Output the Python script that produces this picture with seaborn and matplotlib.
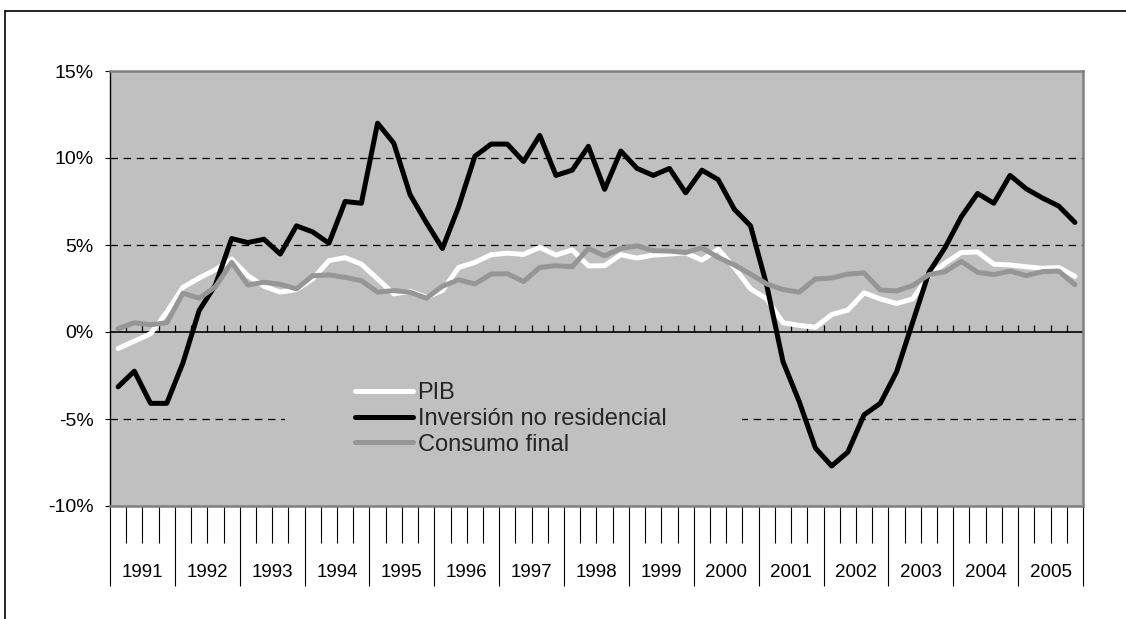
import numpy as np
import pandas as pd
import matplotlib
matplotlib.use('Agg')
import matplotlib.pyplot as plt
import matplotlib.transforms as mtransforms
from matplotlib.lines import Line2D
from matplotlib.patches import Rectangle
import seaborn as sns

# ── Data (tasas de variación interanual, %, trimestral 1991-2005) ──
years = list(range(1991, 2006))

pib = [
    -0.95, -0.53, -0.10, 1.14,    # 1991
    2.57, 3.10, 3.58, 4.19,       # 1992
    3.24, 2.63, 2.29, 2.44,       # 1993
    3.05, 4.10, 4.27, 3.90,       # 1994
    3.05, 2.19, 2.34, 2.00,       # 1995
    2.38, 3.71, 4.00, 4.44,       # 1996
    4.53, 4.46, 4.86, 4.42,       # 1997
    4.72, 3.80, 3.81, 4.44,       # 1998
    4.25, 4.42, 4.48, 4.55,       # 1999
    4.13, 4.76, 3.71, 2.48,       # 2000
    1.90, 0.53, 0.38, 0.27,       # 2001
    1.00, 1.26, 2.25, 1.90,       # 2002
    1.64, 1.90, 3.24, 3.96,       # 2003
    4.57, 4.60, 3.90, 3.85,       # 2004
    3.75, 3.66, 3.71, 3.20,       # 2005
]

inversion = [
    -3.15, -2.25, -4.10, -4.10,   # 1991
    -1.77, 1.24, 2.70, 5.37,      # 1992
    5.14, 5.33, 4.48, 6.10,       # 1993
    5.75, 5.10, 7.50, 7.40,       # 1994
    12.00, 10.85, 7.90, 6.30,     # 1995
    4.80, 7.20, 10.10, 10.80,     # 1996
    10.80, 9.80, 11.30, 9.00,     # 1997
    9.30, 10.67, 8.20, 10.40,     # 1998
    9.40, 9.00, 9.40, 8.00,       # 1999
    9.30, 8.76, 7.05, 6.10,       # 2000
    2.67, -1.70, -4.00, -6.67,    # 2001
    -7.70, -6.90, -4.76, -4.10,   # 2002
    -2.30, 0.57, 3.43, 4.86,      # 2003
    6.63, 7.96, 7.40, 9.00,       # 2004
    8.23, 7.70, 7.24, 6.30,       # 2005
]

consumo = [
    0.19, 0.53, 0.42, 0.53,       # 1991
    2.23, 1.94, 2.60, 4.00,       # 1992
    2.70, 2.86, 2.74, 2.48,       # 1993
    3.24, 3.28, 3.14, 2.95,       # 1994
    2.29, 2.38, 2.29, 1.94,       # 1995
    2.63, 3.00, 2.76, 3.33,       # 1996
    3.35, 2.90, 3.71, 3.81,       # 1997
    3.75, 4.80, 4.38, 4.80,       # 1998
    4.95, 4.67, 4.65, 4.57,       # 1999
    4.84, 4.29, 3.85, 3.33,       # 2000
    2.76, 2.44, 2.29, 3.05,       # 2001
    3.10, 3.33, 3.39, 2.42,       # 2002
    2.36, 2.67, 3.30, 3.47,       # 2003
    4.06, 3.43, 3.30, 3.50,       # 2004
    3.24, 3.47, 3.50, 2.72,       # 2005
]

series_names = ['PIB', 'Inversión no residencial', 'Consumo final']
series_colors = ['#FFFFFF', '#000000', '#969696']

n = len(pib)
quarter = np.arange(n)
df = pd.DataFrame({
    'trimestre': np.tile(quarter, 3),
    'valor': pib + inversion + consumo,
    'serie': np.repeat(series_names, n),
})

# ── Style ──
sns.set_style('white')
plt.rcParams['font.family'] = ['Liberation Sans', 'DejaVu Sans']

W, H = 1126, 619
fig = plt.figure(figsize=(W / 100, H / 100), dpi=100)
ax = fig.add_axes([110 / W, 1 - 506 / H, 973 / W, 435 / H])
ax.set_facecolor('#C0C0C0')

# ── Lines ──
for name, color in zip(series_names, series_colors):
    sns.lineplot(data=df[df['serie'] == name], x='trimestre', y='valor',
                 color=color, linewidth=3.6, ax=ax, zorder=3,
                 solid_capstyle='round', solid_joinstyle='round')

# gridlines and zero axis
for v in [10, 5, -5]:
    ax.axhline(v, color='black', lw=0.9, dashes=(6, 4.5), zorder=1)
ax.axhline(0, color='black', lw=1.2, zorder=2)
ax.vlines(np.arange(0.5, n - 0.5, 1), 0, 0.4, color='black', lw=0.9, zorder=2)

# legend with gray background hiding part of the -5% gridline
ax.add_patch(Rectangle((0.18, 0.092), 0.47, 0.216, transform=ax.transAxes,
                       facecolor='#C0C0C0', edgecolor='none', zorder=1.5))
handles = [Line2D([], [], color=c, lw=3.6) for c in series_colors]
ax.legend(handles, series_names, loc='center left', bbox_to_anchor=(0.2518, 0.2),
          frameon=False, fontsize=17, handlelength=2.45, handletextpad=0.2,
          labelspacing=0.15, borderpad=0, borderaxespad=0)

# ── Axes ──
ax.set_xlim(-0.5, n - 0.5)
ax.set_ylim(-10, 15)
ax.set_xlabel('')
ax.set_ylabel('')

ax.set_yticks(range(-10, 16, 5))
ax.set_yticklabels([f'{v}%' for v in range(-10, 16, 5)])
ax.tick_params(axis='y', left=True, length=3.6, width=0.8, color='black',
               pad=8, labelsize=14, labelcolor='black')

year_edges = np.arange(-0.5, n, 4)
quarter_edges = [q for q in np.arange(0.5, n - 0.5, 1) if (q + 0.5) % 4 != 0]
ax.set_xticks(year_edges)
ax.set_xticks(quarter_edges, minor=True)
ax.tick_params(axis='x', which='major', bottom=True, length=57.6, width=0.8,
               color='black', labelbottom=False)
ax.tick_params(axis='x', which='minor', bottom=True, length=26.6, width=0.8,
               color='black')

trans = mtransforms.blended_transform_factory(ax.transData, ax.transAxes)
for j, y in enumerate(years):
    ax.text(4 * j + 1.5, -0.152, str(y), transform=trans, ha='center',
            va='center', fontsize=13.5, color='black')

for side in ['top', 'right', 'bottom']:
    ax.spines[side].set_color('#808080')
    ax.spines[side].set_linewidth(1.8)
ax.spines['left'].set_color('black')
ax.spines['left'].set_linewidth(1.0)

# outer frame (left and top edges only visible)
fig.add_artist(Line2D([5 / W, 5 / W], [0, 1 - 11 / H], transform=fig.transFigure,
                      color='black', lw=1.2))
fig.add_artist(Line2D([5 / W, 1], [1 - 11 / H, 1 - 11 / H], transform=fig.transFigure,
                      color='black', lw=1.2))

fig.savefig('out.png', dpi=100)
